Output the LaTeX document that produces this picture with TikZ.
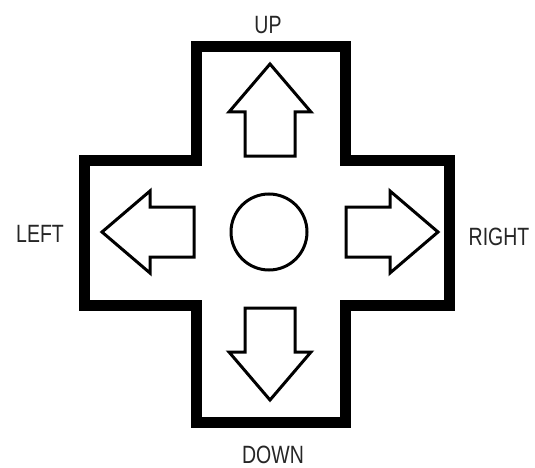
\documentclass[tikz,border=0pt]{standalone}
\usepackage{fontspec}
\setmainfont{Liberation Sans}
\newfontfamily\condfont[FakeStretch=0.78]{Liberation Sans}
\begin{document}
\begin{tikzpicture}[x=1pt,y=-1pt]
\tikzset{
  arrowline/.style={draw=black,line width=3pt,fill=white,line join=miter},
  padarrow/.pic={\draw[arrowline] (76,-25) -- (120,-25) -- (120,-41) -- (168,0) -- (120,41) -- (120,25) -- (76,25) -- cycle;},
  labeltext/.style={font=\condfont\fontsize{25}{25}\selectfont, text=black!85, inner sep=0pt}
}
\useasboundingbox (0,0) rectangle (535,468);
\fill[white] (0,0) rectangle (535,468);
\draw[line width=11pt, line join=miter]
  (196,47) -- (345,47) -- (345,160) -- (449,160) -- (449,305) -- (345,305)
  -- (345,422) -- (196,422) -- (196,305) -- (84,305) -- (84,160) -- (196,160) -- cycle;
\coordinate (c) at (270,232);
\pic[rotate=0] at (c) {padarrow};
\pic[rotate=90] at (c) {padarrow};
\pic[rotate=180] at (c) {padarrow};
\pic[rotate=270] at (c) {padarrow};
\node[circle, draw, line width=3pt, minimum size=76pt, inner sep=0pt] (stick) at (269,232) {};
\node[labeltext] (up) at (268,25) {UP};
\node[labeltext] (down) at (273,455) {DOWN};
\node[labeltext] (left) at (40,234) {LEFT};
\node[labeltext] (right) at (499,237) {RIGHT};
\end{tikzpicture}
\end{document}
